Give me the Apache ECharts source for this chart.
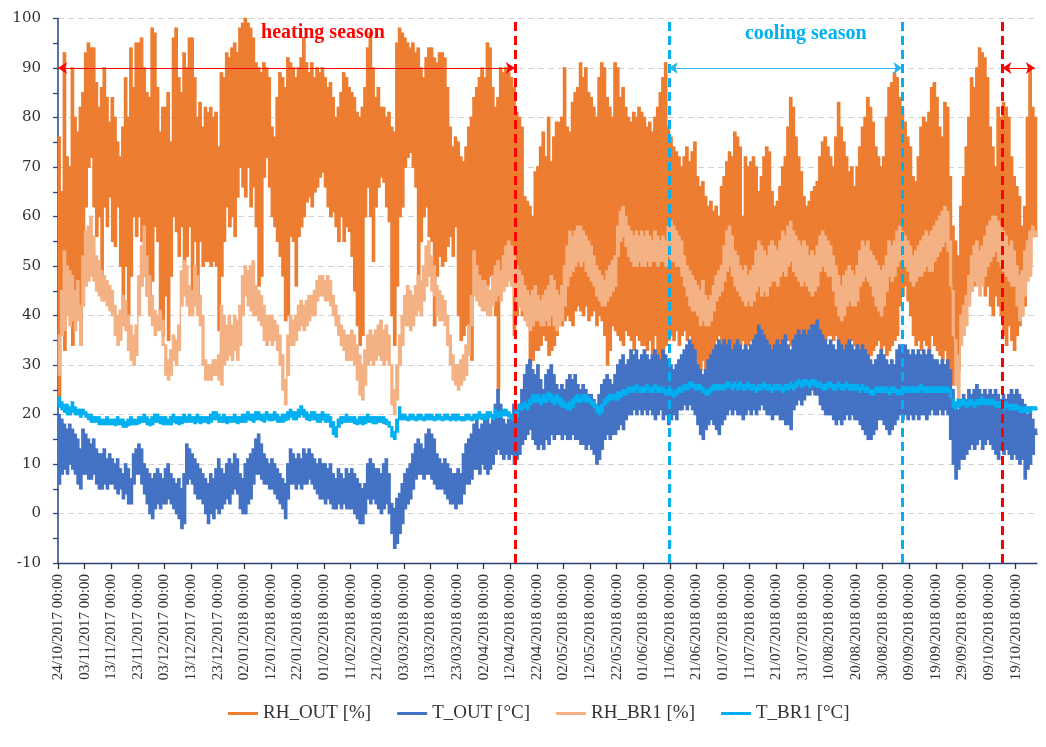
<!DOCTYPE html>
<html>
<head>
<meta charset="utf-8">
<script src="https://cdn.jsdelivr.net/npm/echarts@6/dist/echarts.min.js"></script>
<style>
  html, body { margin: 0; padding: 0; background: #ffffff; }
  #chart { width: 1046px; height: 747px; }
</style>
</head>
<body>
<div id="chart"></div>
<script>
// Axis tick labels, one every 10 days starting 24/10/2017
const tickLabels = [
  '24/10/2017 00:00', '03/11/2017 00:00', '13/11/2017 00:00', '23/11/2017 00:00',
  '03/12/2017 00:00', '13/12/2017 00:00', '23/12/2017 00:00', '02/01/2018 00:00',
  '12/01/2018 00:00', '22/01/2018 00:00', '01/02/2018 00:00', '11/02/2018 00:00',
  '21/02/2018 00:00', '03/03/2018 00:00', '13/03/2018 00:00', '23/03/2018 00:00',
  '02/04/2018 00:00', '12/04/2018 00:00', '22/04/2018 00:00', '02/05/2018 00:00',
  '12/05/2018 00:00', '22/05/2018 00:00', '01/06/2018 00:00', '11/06/2018 00:00',
  '21/06/2018 00:00', '01/07/2018 00:00', '11/07/2018 00:00', '21/07/2018 00:00',
  '31/07/2018 00:00', '10/08/2018 00:00', '20/08/2018 00:00', '30/08/2018 00:00',
  '09/09/2018 00:00', '19/09/2018 00:00', '29/09/2018 00:00', '09/10/2018 00:00',
  '19/10/2018 00:00'
];

// Daily maximum / minimum of each logged quantity (day 0 = 24/10/2017)
const rhOutHi = [
  76, 65, 93, 72, 70, 90, 80, 77, 82, 85,
  93, 95, 94, 94, 87, 82, 86, 90, 84, 79,
  84, 80, 75, 72, 78, 88, 80, 94, 86, 95,
  95, 96, 90, 85, 84, 98, 97, 86, 77, 82,
  82, 85, 75, 96, 98, 88, 85, 93, 90, 96,
  96, 88, 80, 83, 78, 82, 81, 82, 80, 81,
  74, 89, 88, 93, 92, 94, 95, 93, 98, 99,
  100, 99, 98, 96, 91, 90, 89, 91, 90, 88,
  78, 76, 84, 89, 88, 86, 92, 91, 90, 88,
  90, 92, 96, 91, 89, 91, 88, 90, 89, 90,
  88, 86, 87, 84, 80, 82, 85, 89, 88, 86,
  85, 84, 81, 80, 82, 86, 94, 97, 90, 84,
  86, 82, 82, 80, 81, 78, 77, 95, 98, 97,
  96, 95, 94, 95, 93, 94, 90, 88, 92, 94,
  94, 92, 91, 93, 93, 92, 86, 78, 74, 76,
  75, 72, 71, 74, 78, 80, 84, 86, 88, 90,
  88, 95, 94, 86, 82, 84, 90, 89, 90, 89,
  88, 86, 81, 80, 78, 64, 63, 62, 60, 69,
  70, 74, 77, 72, 80, 71, 76, 79, 79, 80,
  90, 78, 77, 83, 85, 86, 91, 88, 90, 85,
  84, 82, 80, 88, 91, 90, 84, 82, 80, 91,
  90, 84, 86, 82, 80, 79, 81, 80, 82, 81,
  80, 78, 79, 77, 80, 82, 85, 88, 91, 78,
  76, 74, 73, 72, 70, 72, 74, 71, 73, 75,
  68, 66, 67, 64, 62, 63, 61, 62, 60, 66,
  68, 71, 73, 72, 77, 76, 74, 60, 72, 70,
  71, 72, 70, 65, 68, 72, 74, 73, 65, 62,
  63, 66, 70, 72, 78, 84, 82, 76, 72, 69,
  64, 62, 63, 65, 66, 67, 72, 75, 76, 74,
  72, 70, 76, 83, 78, 75, 72, 69, 70, 66,
  70, 74, 78, 80, 84, 82, 79, 74, 72, 70,
  72, 80, 86, 87, 89, 88, 84, 82, 79, 76,
  74, 68, 67, 72, 78, 80, 79, 81, 86, 87,
  84, 78, 76, 83, 82, 68, 58, 55, 52, 62,
  68, 74, 80, 88, 86, 90, 94, 93, 92, 88,
  78, 74, 70, 82, 80, 83, 82, 80, 72, 68,
  66, 64, 58, 62, 80, 90, 82, 80
];
const rhOutLo = [
  22, 36, 33, 50, 45, 34, 42, 40, 34, 52,
  62, 70, 72, 62, 56, 60, 46, 62, 58, 64,
  55, 54, 62, 50, 42, 50, 40, 48, 60, 56,
  60, 55, 48, 44, 40, 47, 58, 55, 40, 36,
  44, 35, 48, 60, 57, 52, 58, 50, 52, 58,
  45, 55, 42, 55, 50, 51, 51, 50, 51, 50,
  37, 48, 55, 62, 58, 60, 56, 64, 70, 66,
  64, 70, 62, 66, 58, 46, 48, 68, 72, 66,
  60, 58, 55, 52, 48, 39, 40, 56, 55, 46,
  56, 58, 60, 63, 64, 62, 65, 66, 68, 69,
  66, 62, 60, 61, 58, 55, 60, 55, 58, 57,
  52, 45, 38, 34, 36, 60, 66, 60, 51, 62,
  66, 68, 67, 62, 59, 40, 34, 46, 60, 62,
  70, 72, 73, 70, 66, 47, 55, 60, 62, 56,
  55, 38, 48, 52, 50, 51, 54, 56, 52, 58,
  40, 35, 36, 38, 34, 31, 45, 50, 43, 46,
  44, 46, 48, 44, 40, 25, 45, 50, 46, 48,
  48, 36, 40, 42, 40, 41, 38, 30, 31, 33,
  33, 34, 36, 35, 32, 33, 34, 36, 38, 38,
  39, 40, 39, 38, 41, 42, 41, 40, 42, 39,
  40, 41, 38, 40, 39, 36, 30, 33, 38, 37,
  36, 35, 34, 37, 36, 35, 33, 36, 35, 34,
  34, 33, 35, 32, 36, 30, 31, 30, 34, 35,
  36, 35, 37, 34, 36, 37, 35, 36, 34, 33,
  30, 29, 31, 28, 30, 32, 33, 35, 36, 34,
  34, 33, 32, 33, 32, 33, 34, 35, 33, 34,
  35, 34, 33, 31, 32, 31, 33, 32, 31, 34,
  33, 32, 34, 36, 35, 34, 33, 35, 34, 32,
  33, 32, 34, 33, 35, 34, 33, 34, 35, 36,
  36, 35, 36, 34, 29, 33, 34, 33, 35, 34,
  32, 31, 33, 30, 31, 32, 33, 34, 35, 33,
  34, 32, 33, 34, 35, 36, 42, 44, 46, 43,
  40, 36, 34, 35, 33, 35, 34, 32, 36, 34,
  33, 32, 31, 33, 30, 28, 26, 27, 29, 36,
  40, 42, 44, 45, 46, 48, 50, 47, 44, 46,
  42, 40, 44, 42, 40, 36, 34, 38, 35, 33,
  36, 38, 40, 42, 48, 50, 56, 56
];
const tOutHi = [
  20, 19, 18, 17, 18, 17, 16, 15, 13, 17,
  16, 15, 14, 15, 13, 12, 12, 13, 11, 12,
  11, 10, 11, 9, 8, 10, 9, 7, 12, 13,
  14, 13, 10, 9, 8, 7, 8, 9, 8, 7,
  9, 10, 8, 7, 6, 7, 5, 8, 14, 13,
  12, 11, 10, 9, 8, 7, 6, 8, 7, 9,
  11, 9, 8, 10, 11, 10, 12, 11, 8, 7,
  10, 11, 12, 13, 15, 16, 14, 12, 11, 10,
  11, 10, 9, 8, 7, 6, 10, 13, 12, 11,
  12, 11, 13, 12, 13, 12, 11, 10, 11, 10,
  10, 9, 10, 8, 7, 9, 8, 7, 9, 8,
  9, 8, 7, 6, 5, 6, 10, 11, 10, 9,
  9, 8, 10, 11, 8, 2, 1, 3, 4, 6,
  8, 9, 10, 12, 14, 15, 14, 13, 16, 17,
  16, 15, 12, 11, 10, 11, 10, 9, 8, 8,
  9, 8, 12, 14, 15, 16, 18, 19, 17, 18,
  19, 20, 18, 19, 22, 25, 22, 19, 18, 19,
  20, 22, 21, 22, 25, 28, 30, 31, 29, 28,
  30, 27, 25, 28, 29, 30, 28, 26, 25, 26,
  25, 27, 28, 27, 28, 26, 25, 26, 25, 24,
  24, 23, 22, 24, 26, 27, 28, 27, 26, 28,
  30, 31, 32, 30, 31, 33, 32, 33, 31, 32,
  33, 32, 31, 32, 33, 32, 31, 33, 32, 31,
  30, 29, 30, 31, 32, 33, 34, 35, 34, 33,
  30, 29, 28, 29, 31, 32, 33, 34, 35, 34,
  35, 34, 35, 33, 34, 35, 34, 33, 34, 33,
  34, 35, 36, 38, 37, 36, 35, 34, 33, 34,
  35, 34, 35, 36, 34, 33, 35, 36, 37, 36,
  37, 36, 37, 38, 38, 39, 37, 36, 35, 34,
  35, 34, 33, 35, 34, 33, 34, 35, 34, 33,
  34, 33, 34, 33, 32, 31, 30, 31, 32, 33,
  32, 31, 30, 31, 30, 33, 34, 33, 34, 33,
  32, 33, 32, 33, 32, 33, 32, 33, 32, 31,
  31, 30, 31, 30, 31, 29, 25, 22, 21, 23,
  24, 23, 25, 24, 25, 26, 25, 24, 25, 24,
  25, 24, 25, 24, 23, 24, 23, 24, 25, 24,
  25, 24, 23, 22, 20, 21, 19, 17
];
const tOutLo = [
  6, 8, 9, 8, 10, 9, 8, 6, 5, 8,
  8, 7, 7, 8, 6, 5, 5, 6, 5, 6,
  6, 5, 4, 5, 3, 4, 2, 2, 6, 8,
  8, 6, 4, 2, 0, -1, 1, 2, 1, 2,
  2, 3, 2, 1, 0, -1, -3, -2, 6, 7,
  6, 4, 3, 3, 2, 0, -2, 0, -1, 1,
  0, 1, 2, 3, 2, 4, 5, 4, 1, 0,
  0, 2, 3, 6, 8, 8, 7, 6, 6, 5,
  5, 4, 3, 2, 1, -1, 3, 6, 6, 5,
  6, 5, 6, 6, 7, 6, 5, 4, 3, 3,
  2, 3, 2, 1, 1, 2, 1, 2, 1, 1,
  1, 0, -1, -2, -2, 0, 3, 2, 3, 2,
  1, 0, 1, 2, 0, -4, -7, -6, -4, -2,
  1, 2, 3, 5, 7, 8, 8, 7, 8, 8,
  7, 6, 5, 5, 5, 4, 3, 2, 2, 1,
  2, 2, 4, 6, 6, 7, 9, 9, 8, 10,
  9, 8, 9, 10, 12, 13, 12, 11, 12, 11,
  12, 10, 11, 12, 14, 15, 16, 17, 15, 14,
  13, 14, 13, 15, 14, 16, 15, 16, 16, 15,
  16, 15, 15, 16, 15, 15, 14, 14, 13, 14,
  13, 12, 10, 11, 13, 15, 16, 15, 16, 16,
  17, 18, 17, 19, 20, 20, 21, 20, 21, 20,
  21, 20, 21, 20, 19, 20, 21, 19, 20, 18,
  19, 20, 19, 21, 21, 22, 21, 22, 21, 20,
  18, 16, 15, 17, 18, 19, 18, 17, 16, 18,
  19, 20, 21, 20, 21, 20, 20, 19, 20, 21,
  20, 21, 20, 21, 22, 21, 20, 20, 19, 20,
  20, 19, 19, 18, 18, 17, 21, 22, 23, 22,
  23, 24, 24, 25, 24, 24, 22, 21, 20, 20,
  20, 19, 18, 19, 18, 19, 20, 19, 20, 19,
  19, 18, 17, 16, 15, 15, 16, 17, 19, 19,
  18, 17, 16, 17, 18, 19, 20, 19, 20, 19,
  20, 19, 20, 19, 20, 20, 19, 20, 21, 20,
  20, 21, 20, 21, 20, 15, 10, 7, 9, 11,
  11, 12, 13, 14, 13, 14, 15, 13, 14, 15,
  14, 13, 12, 11, 13, 12, 13, 12, 11, 12,
  11, 10, 11, 7, 9, 10, 12, 16
];
const rhBr1Hi = [
  36, 45, 53, 50, 49, 48, 45, 47, 42, 52,
  57, 58, 60, 56, 52, 51, 49, 48, 47, 46,
  45, 42, 40, 41, 44, 43, 40, 38, 36, 38,
  48, 54, 58, 52, 48, 44, 41, 40, 41, 39,
  34, 31, 33, 36, 35, 38, 49, 51, 50, 46,
  45, 50, 48, 44, 40, 31, 30, 30, 31, 31,
  32, 42, 40, 38, 40, 38, 40, 39, 42, 48,
  50, 49, 50, 51, 46, 45, 44, 42, 40, 40,
  40, 39, 38, 36, 32, 27, 36, 40, 39, 40,
  42, 43, 42, 43, 44, 44, 45, 47, 48, 48,
  47, 48, 47, 44, 42, 40, 38, 37, 36, 36,
  37, 36, 34, 32, 30, 33, 36, 37, 36, 37,
  38, 39, 37, 38, 36, 30, 25, 30, 36, 40,
  44, 46, 45, 44, 46, 48, 47, 50, 54, 55,
  52, 50, 46, 45, 44, 43, 40, 36, 32, 30,
  30, 31, 32, 34, 38, 44, 53, 50, 48, 47,
  47, 46, 45, 48, 50, 51, 49, 52, 54, 55,
  54, 52, 50, 49, 48, 46, 45, 44, 45, 46,
  44, 43, 44, 45, 46, 48, 47, 45, 44, 46,
  50, 54, 57, 56, 57, 58, 58, 57, 56, 55,
  54, 52, 50, 49, 48, 47, 49, 50, 51, 52,
  58, 61, 62, 60, 58, 57, 56, 57, 56, 57,
  56, 57, 56, 55, 57, 56, 55, 56, 55, 58,
  59, 58, 57, 56, 55, 52, 50, 49, 48, 47,
  46, 45, 47, 44, 43, 44, 46, 48, 49, 50,
  54, 57, 58, 56, 53, 52, 50, 49, 50, 48,
  49, 50, 53, 55, 54, 53, 52, 54, 55, 54,
  53, 55, 57, 56, 58, 59, 57, 56, 55, 54,
  55, 54, 52, 53, 52, 54, 56, 57, 56, 55,
  54, 52, 50, 48, 46, 48, 49, 50, 49, 48,
  50, 53, 55, 54, 55, 53, 52, 51, 50, 49,
  50, 52, 55, 54, 55, 57, 58, 57, 56, 55,
  54, 52, 53, 54, 55, 56, 57, 56, 57, 58,
  59, 60, 61, 62, 61, 55, 45, 35, 32, 40,
  42, 44, 48, 52, 54, 55, 53, 54, 56, 58,
  59, 60, 60, 59, 58, 57, 56, 54, 55, 53,
  50, 48, 49, 53, 55, 57, 58, 57
];
const rhBr1Lo = [
  28, 36, 37, 40, 38, 39, 37, 39, 34, 42,
  46, 47, 48, 47, 45, 44, 43, 43, 42, 41,
  40, 36, 34, 35, 38, 37, 33, 31, 30, 32,
  40, 46, 48, 44, 40, 38, 36, 37, 37, 34,
  28, 27, 28, 31, 30, 33, 42, 44, 42, 40,
  40, 42, 40, 38, 30, 27, 27, 27, 28, 28,
  27, 26, 30, 31, 32, 31, 33, 31, 34, 40,
  44, 42, 41, 40, 40, 39, 38, 35, 34, 35,
  34, 35, 33, 30, 25, 22, 28, 34, 34, 35,
  37, 38, 37, 38, 39, 40, 40, 43, 44, 44,
  43, 43, 42, 40, 38, 36, 34, 33, 31, 31,
  31, 30, 27, 24, 23, 26, 30, 31, 30, 31,
  32, 31, 30, 31, 30, 22, 20, 23, 30, 34,
  38, 38, 37, 38, 40, 41, 40, 43, 46, 48,
  45, 44, 40, 39, 39, 38, 34, 30, 27, 26,
  25, 26, 27, 28, 32, 38, 44, 43, 42, 41,
  41, 40, 40, 42, 43, 44, 43, 45, 46, 47,
  46, 44, 43, 42, 41, 39, 38, 37, 38, 39,
  39, 38, 38, 39, 38, 40, 38, 37, 38, 39,
  42, 46, 48, 49, 50, 51, 50, 51, 49, 48,
  47, 46, 44, 43, 42, 42, 43, 44, 45, 46,
  52, 55, 56, 54, 52, 51, 50, 50, 51, 50,
  50, 51, 50, 51, 51, 50, 51, 51, 50, 52,
  51, 51, 50, 50, 48, 46, 44, 42, 41, 41,
  40, 38, 39, 38, 38, 39, 41, 43, 44, 45,
  47, 49, 50, 48, 46, 45, 44, 43, 42, 43,
  42, 43, 45, 46, 44, 45, 44, 46, 47, 47,
  46, 48, 49, 48, 50, 51, 49, 48, 47, 46,
  47, 46, 45, 44, 45, 46, 49, 50, 49, 48,
  48, 45, 42, 40, 39, 40, 42, 43, 42, 42,
  43, 46, 47, 48, 47, 46, 44, 42, 41, 40,
  42, 45, 48, 47, 48, 50, 51, 50, 50, 49,
  47, 46, 47, 48, 48, 49, 50, 49, 49, 51,
  52, 53, 54, 55, 53, 46, 36, 26, 23, 34,
  36, 38, 42, 45, 47, 46, 44, 46, 48, 50,
  51, 52, 53, 51, 50, 49, 48, 47, 46, 46,
  42, 39, 40, 44, 47, 48, 56, 56
];
const tBr1Hi = [
  23.5, 22.5, 22, 22, 21.5, 22.5, 21.5, 21, 21, 21,
  20.5, 20, 20, 19.5, 19.5, 19.5, 19, 19, 19.5, 19,
  19, 19, 19.5, 19, 19, 18.5, 19, 19.5, 19, 19,
  19.5, 19.5, 20, 19.5, 19, 19.5, 20, 20, 19.5, 19.5,
  19.5, 19, 19.5, 20, 19.5, 19.5, 19.5, 20, 19.5, 20,
  19.5, 19.5, 20, 19.5, 19.5, 19.5, 19.5, 20, 20.5, 20.5,
  20, 19.5, 20, 19.5, 19.5, 19.5, 20, 19.5, 19.5, 20,
  20, 20.5, 20, 20, 20.5, 20.5, 20, 20, 20.5, 20,
  20, 20.5, 20, 19.5, 20, 20, 20.5, 21, 20.5, 20.5,
  21, 21.7, 21, 20.5, 20, 20.5, 20.5, 20, 20, 20.5,
  20, 20, 19.5, 18.5, 17.5, 19, 19.5, 19.5, 20, 19.5,
  19.5, 19.5, 19, 19.5, 19.5, 19.5, 20, 19.5, 19.5, 19.5,
  19.5, 19.5, 19.5, 19, 18.5, 17.5, 16.5, 19, 21.5, 20,
  20, 19.5, 20, 20, 19.5, 20, 20, 19.5, 20, 20,
  20, 19.5, 20, 20, 19.5, 20, 20, 19.5, 20, 20,
  20, 19.5, 19.5, 20, 20, 19.5, 20, 20, 20.5, 20,
  20, 20.5, 20.5, 20, 21, 20.5, 20.5, 21, 21, 20.5,
  20, 19.5, 20.5, 22, 22, 22.5, 22, 23, 24, 24,
  24, 23.5, 24, 24, 24.5, 24, 23.5, 24, 23.5, 23,
  22.5, 22, 22.5, 23, 23.5, 24, 23.5, 24, 24, 23.5,
  23, 22.5, 22, 21.5, 22, 23, 23.5, 24, 24, 24,
  24.5, 24.5, 25, 25, 25.5, 25.5, 25.5, 26, 25.5, 25.5,
  25.5, 26, 25.5, 25.5, 26, 25.5, 25.5, 25.5, 25, 25,
  25, 24.5, 25, 25.5, 25.5, 26, 26, 26.5, 26.5, 26,
  26, 26, 25.5, 25, 25, 25.5, 26, 26, 26, 26,
  26, 26.5, 26.5, 26, 26.5, 26, 26.5, 26, 26, 26.5,
  26, 26, 25.5, 26, 26, 26.5, 26, 26, 25.5, 26,
  26, 26, 25.5, 26, 26, 26.5, 26, 26.5, 27, 26.5,
  27, 27, 26.5, 27, 27, 26.5, 26.5, 26, 26, 26.5,
  26.5, 26, 26, 26.5, 26, 26, 26.5, 26, 26, 26,
  26, 25.5, 26, 25.5, 25.5, 25, 25, 25.5, 25.5, 25.5,
  25.5, 25.5, 25, 25.5, 25.5, 25, 25, 25.5, 25.5, 25.5,
  25.5, 25.5, 25.5, 25.5, 26, 25.5, 25.5, 25.5, 25.5, 25.5,
  25.5, 25.5, 25.5, 25.5, 25.5, 25, 23, 22.5, 23, 23,
  23, 22.5, 23, 23, 22.5, 23, 23, 23.5, 23, 23,
  23, 23, 22.5, 22.5, 22.5, 22, 22.5, 22, 22, 22,
  22, 21.5, 21.5, 21.5, 21.5, 21.5, 21.5, 21.5
];
const tBr1Lo = [
  21.5, 21, 20.5, 20, 20, 20.5, 20, 20, 19.5, 20,
  19.5, 19, 18.5, 18.5, 18.5, 18, 18, 18, 18, 18,
  18, 17.8, 18, 18, 17.5, 17.5, 17.8, 18, 18, 18,
  18.2, 18.5, 18.5, 18, 17.8, 18, 18.5, 18.5, 18.2, 18,
  18, 18, 18, 18.5, 18.2, 18, 18.2, 18.5, 18.5, 18.5,
  18.5, 18.2, 18.5, 18.2, 18.5, 18.5, 18.2, 18.5, 19, 19,
  18.5, 18.5, 18.5, 18.2, 18.5, 18.5, 18.5, 18.2, 18.5, 18.5,
  18.5, 19, 18.8, 18.5, 19, 19, 18.8, 18.5, 19, 18.8,
  18.8, 19, 18.5, 18.5, 18.5, 18.8, 19, 19.5, 19, 19,
  19.5, 20, 19.5, 19, 18.8, 19, 19, 18.5, 18.5, 19,
  18.5, 18.5, 17.5, 16, 15.5, 17.5, 18.2, 18.5, 18.5, 18.5,
  18.5, 18.2, 18, 18.2, 18, 18.2, 18.5, 18.5, 18.2, 18.2,
  18.5, 18.5, 18.2, 18, 17.5, 15.5, 15, 16.5, 19, 19,
  19, 18.8, 19, 19, 18.8, 19, 19, 18.8, 19, 19,
  19, 18.8, 19, 19, 18.8, 19, 19, 18.8, 19, 18.8,
  19, 18.8, 18.8, 19, 19, 18.8, 19, 19, 19.2, 19,
  19, 19.2, 19.5, 19, 19.5, 19.5, 19.5, 19.8, 19.8, 19.5,
  19, 18.8, 19.5, 21, 21, 21.5, 21, 22, 22.5, 22.5,
  22.5, 22, 22.5, 22.5, 23, 22.5, 22, 22.5, 22, 21.5,
  21.5, 21, 21, 21.5, 22.5, 22.5, 22.5, 23, 22.5, 22.5,
  22, 21.5, 20.5, 20, 20.5, 22, 22.5, 23, 23, 23,
  23, 23.5, 24, 24, 24.5, 24.5, 24.5, 25, 24.5, 24.5,
  24.5, 25, 24.5, 24.5, 25, 24.5, 24.5, 24.5, 24, 24,
  24, 23.5, 24, 24.5, 24.5, 25, 25, 25.5, 25.5, 25,
  25, 25, 24.5, 24, 24, 24.5, 25, 25, 25, 25,
  25, 25.5, 25.5, 25, 25.5, 25, 25.5, 25, 25, 25.5,
  25, 25, 24.5, 25, 25, 25.5, 25, 25, 24.5, 25,
  25, 25, 24.5, 25, 25, 25.5, 25, 25.5, 26, 25.5,
  26, 26, 25.5, 26, 25.8, 25.5, 25.5, 25, 25, 25.5,
  25.5, 25, 25, 25.5, 25, 25, 25.5, 25, 25, 25,
  25, 24.5, 25, 24.5, 24.5, 24, 24, 24.5, 24.5, 24.5,
  24.5, 24.5, 24, 24.5, 24.5, 24, 24, 24.5, 24.5, 24.5,
  24.5, 24.5, 24.5, 24.5, 25, 24.5, 24.5, 24.5, 24.5, 24.5,
  24.5, 24.5, 24.5, 24.5, 24.5, 23.5, 21.5, 21, 21.5, 21.8,
  22, 21.5, 21.8, 22, 21.5, 22, 22, 22.2, 22, 22,
  22, 22, 21.5, 21.5, 21.5, 21, 21.5, 21, 21, 21,
  21, 20.5, 20.5, 20.5, 20.5, 20.5, 21, 21
];

// Season boundaries, in days since 24/10/2017
const heatingEnd = 171.7;
const coolingStart = 229.6;
const coolingEnd = 317.4;
const heatingStart = 355;
const arrowLevel = 90;
const axisEndDay = 368;

const seriesNames = ['RH_OUT [%]', 'T_OUT [°C]', 'RH_BR1 [%]', 'T_BR1 [°C]'];
const seriesColors = ['#ED7D31', '#4472C4', '#F4B183', '#00B0F0'];

// One row per day: [day, max, min, next day's max]
function dailyRows(hi, lo) {
  const rows = [];
  const n = Math.min(hi.length, lo.length);
  for (let d = 0; d < n; d++) {
    const nextHi = d + 1 < n ? hi[d + 1] : lo[d];
    rows.push([d, hi[d], lo[d], nextHi]);
  }
  return rows;
}

// Each day fills its max-min range; a thin riser joins the day's minimum
// to the next day's maximum so the record reads as one continuous trace
function dailyRange(params, api) {
  const d = api.value(0);
  const top = api.coord([d, api.value(1)]);
  const bottom = api.coord([d + 1, api.value(2)]);
  const nextTop = api.coord([d + 1, api.value(3)]);
  const color = api.visual('color');
  const x0 = top[0] - 0.3;
  const w = bottom[0] - top[0] + 0.6;
  const y0 = top[1] - 0.8;
  const h = bottom[1] - top[1] + 1.6;
  const riserTop = Math.min(bottom[1], nextTop[1]) - 0.8;
  const riserH = Math.abs(bottom[1] - nextTop[1]) + 1.6;
  return {
    type: 'group',
    children: [
      { type: 'rect', shape: { x: x0, y: y0, width: w, height: h }, style: { fill: color } },
      { type: 'rect', shape: { x: bottom[0] - 0.7, y: riserTop, width: 1.4, height: riserH }, style: { fill: color } }
    ]
  };
}

const tickDays = tickLabels.map((_, i) => i * 10);
const serifFont = '"Liberation Serif", "Times New Roman", serif';
const axisColor = '#2A4478';

function traceSeries(idx, hi, lo) {
  return {
    name: seriesNames[idx],
    type: 'custom',
    data: dailyRows(hi, lo),
    renderItem: dailyRange,
    encode: { x: 0, y: [1, 2] },
    silent: true,
    itemStyle: { color: seriesColors[idx] },
    color: seriesColors[idx],
    emphasis: { disabled: true },
    animation: false
  };
}

const chart = echarts.init(document.getElementById('chart'), null, { renderer: 'canvas' });

chart.setOption({
  animation: false,
  backgroundColor: '#ffffff',
  grid: { left: 58, right: 9, top: 18.5, bottom: 184, containLabel: false },
  legend: {
    data: seriesNames,
    icon: 'rect',
    itemWidth: 30,
    itemHeight: 3,
    itemGap: 26,
    left: 223,
    top: 699,
    textStyle: { fontFamily: serifFont, fontSize: 19, color: '#333333' }
  },
  xAxis: {
    type: 'value',
    min: 0,
    max: axisEndDay,
    interval: 10,
    axisLine: { show: true, onZero: false, lineStyle: { color: axisColor, width: 1.3 } },
    axisTick: { show: true, length: 6, inside: false, customValues: tickDays, lineStyle: { color: '#333333', width: 1.3 } },
    axisLabel: {
      rotate: 90,
      margin: 11,
      customValues: tickDays,
      fontFamily: serifFont,
      fontSize: 15,
      color: '#333333',
      formatter: function (v) {
        const i = Math.round(v / 10);
        return (Math.abs(v - i * 10) < 1e-6 && tickLabels[i]) ? tickLabels[i] : '';
      }
    },
    splitLine: { show: false }
  },
  yAxis: {
    type: 'value',
    min: -10,
    max: 100,
    interval: 10,
    axisLine: { show: true, onZero: false, lineStyle: { color: axisColor, width: 1.5 } },
    axisTick: { show: true, length: 5, inside: false, lineStyle: { color: axisColor, width: 1.3 } },
    minorTick: { show: true, splitNumber: 2, length: 5, lineStyle: { color: axisColor, width: 1.3 } },
    axisLabel: {
      margin: 17,
      fontFamily: '"DejaVu Serif", serif',
      fontSize: 15,
      color: '#333333'
    },
    splitLine: { show: true, lineStyle: { color: '#D4D4D4', type: [6, 4], width: 1 } }
  },
  series: [
    traceSeries(0, rhOutHi, rhOutLo),
    traceSeries(1, tOutHi, tOutLo),
    traceSeries(2, rhBr1Hi, rhBr1Lo),
    traceSeries(3, tBr1Hi, tBr1Lo),
    {
      // season boundaries: dashed verticals
      name: 'seasonBounds',
      type: 'line',
      data: [],
      z: 10,
      silent: true,
      markLine: {
        silent: true,
        animation: false,
        symbol: ['none', 'none'],
        label: { show: false },
        emphasis: { disabled: true },
        data: [
          { xAxis: heatingEnd, lineStyle: { color: '#FF0000', type: [9, 5], width: 3 } },
          { xAxis: coolingStart, lineStyle: { color: '#00B0F0', type: [9, 5], width: 3 } },
          { xAxis: coolingEnd, lineStyle: { color: '#00B0F0', type: [9, 5], width: 3 } },
          { xAxis: heatingStart, lineStyle: { color: '#FF0000', type: [9, 5], width: 3 } }
        ]
      }
    },
    {
      // season spans: double-headed arrows and titles
      name: 'seasonSpans',
      type: 'line',
      data: [],
      z: 11,
      silent: true,
      markLine: {
        silent: true,
        animation: false,
        symbol: ['arrow', 'arrow'],
        symbolSize: 9,
        label: { show: false },
        emphasis: { disabled: true },
        data: [
          [{ coord: [0, arrowLevel], lineStyle: { color: '#FF0000', width: 1, type: 'solid' } },
           { coord: [heatingEnd, arrowLevel] }],
          [{ coord: [coolingStart, arrowLevel], lineStyle: { color: '#29B6F0', width: 1, type: 'solid' } },
           { coord: [coolingEnd, arrowLevel] }],
          [{ coord: [heatingStart, arrowLevel], lineStyle: { color: '#FF0000', width: 1, type: 'solid' } },
           { coord: [axisEndDay - 0.8, arrowLevel] }]
        ]
      },
      markPoint: {
        silent: true,
        animation: false,
        symbol: 'circle',
        symbolSize: 1,
        itemStyle: { color: 'rgba(0,0,0,0)' },
        label: {
          show: true,
          position: 'inside',
          formatter: '{b}',
          fontFamily: serifFont,
          fontWeight: 'bold',
          fontSize: 20
        },
        data: [
          { name: 'heating season', coord: [99.6, 97.2], label: { color: '#FF0000' } },
          { name: 'cooling season', coord: [281.1, 96.9], label: { color: '#00B0F0' } }
        ]
      }
    }
  ]
});
</script>
</body>
</html>
